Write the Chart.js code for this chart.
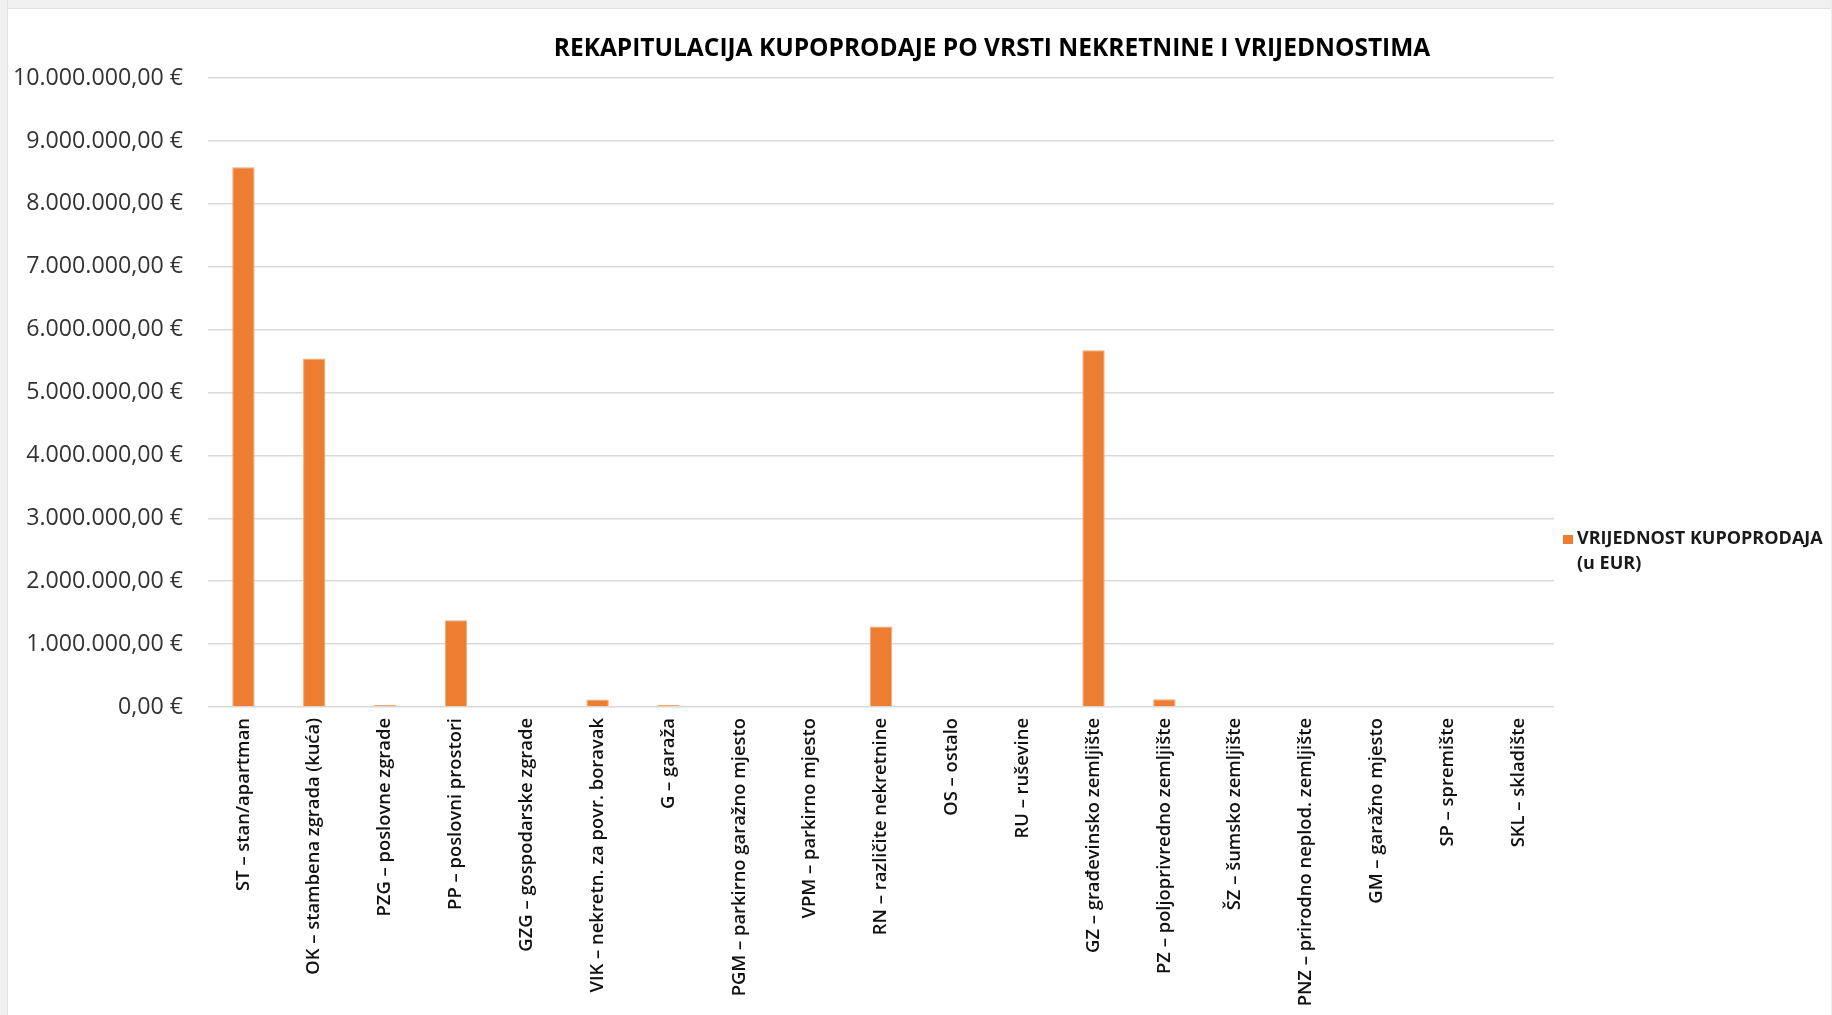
<!DOCTYPE html>
<html><head><meta charset="utf-8">
<script src="https://cdn.jsdelivr.net/npm/chart.js@4"></script>
<style>
html,body{margin:0;padding:0;background:#fff;width:1832px;height:1015px;overflow:hidden}
#top{position:absolute;left:0;top:0;width:1832px;height:8px;background:#f0f0f0;border-bottom:1px solid #e2e2e2}
#left{position:absolute;left:0;top:0;width:7px;height:1015px;background:#f0f0f0;border-right:1px solid #e2e2e2}
#right{position:absolute;right:0;top:0;width:1px;height:1015px;background:#ececec}
#wrap{position:absolute;left:0;top:0;width:1832px;height:1015px}
</style></head><body>
<div id="top"></div><div id="left"></div><div id="right"></div>
<div id="wrap"><canvas id="c" width="1832" height="1015"></canvas></div>
<script>
const chartTitle = "REKAPITULACIJA KUPOPRODAJE PO VRSTI NEKRETNINE I VRIJEDNOSTIMA";
const seriesName = ["VRIJEDNOST KUPOPRODAJA", "(u EUR)"];
const categories = [
  "ST – stan/apartman",
  "OK – stambena zgrada (kuća)",
  "PZG – poslovne zgrade",
  "PP – poslovni prostori",
  "GZG – gospodarske zgrade",
  "VIK – nekretn. za povr. boravak",
  "G – garaža",
  "PGM – parkirno garažno mjesto",
  "VPM – parkirno mjesto",
  "RN – različite nekretnine",
  "OS – ostalo",
  "RU – ruševine",
  "GZ – građevinsko zemljište",
  "PZ – poljoprivredno zemljište",
  "ŠZ – šumsko zemljište",
  "PNZ – prirodno neplod. zemljište",
  "GM – garažno mjesto",
  "SP – spremište",
  "SKL – skladište"
];
const values = [8580000, 5540000, 35000, 1380000, 0, 120000, 35000, 0, 0, 1280000, 0, 0, 5670000, 125000, 0, 0, 0, 0, 0];
const yMin = 0;
const yMax = 10000000;
const yStep = 1000000;

function fmtEur(v) {
  const neg = v < 0;
  let n = Math.abs(v).toFixed(2);
  let [intPart, dec] = n.split(".");
  intPart = intPart.replace(/\B(?=(\d{3})+(?!\d))/g, ".");
  return (neg ? "-" : "") + intPart + "," + dec + " €";
}

const overlay = {
  id: "overlay",
  afterDraw(chart) {
    const ctx = chart.ctx;
    ctx.save();
    ctx.fillStyle = "#000000";
    ctx.font = "bold 24.5px 'Open Sans'";
    ctx.textAlign = "center";
    ctx.textBaseline = "middle";
    ctx.fillText(chartTitle, 992, 49);
    // legend
    const ds = chart.data.datasets[0];
    ctx.fillStyle = ds.backgroundColor;
    ctx.fillRect(1563, 535, 10, 9);
    ctx.fillStyle = "#1a1a1a";
    ctx.font = "bold 18px 'Open Sans'";
    ctx.textAlign = "left";
    ctx.fillText(seriesName[0], 1577, 539);
    ctx.fillText(seriesName[1], 1577, 564);
    ctx.restore();
  }
};

new Chart(document.getElementById("c"), {
  type: "bar",
  data: {
    labels: categories,
    datasets: [{
      label: seriesName.join(" "),
      data: values,
      backgroundColor: "#ED7D31",
      borderColor: "#F3A877",
      borderWidth: 1,
      barPercentage: 0.316,
      categoryPercentage: 1
    }]
  },
  options: {
    responsive: false,
    devicePixelRatio: 1,
    animation: false,
    layout: { padding: { left: 0, right: 278, top: 78, bottom: 0 } },
    plugins: { legend: { display: false }, title: { display: false }, tooltip: { enabled: false } },
    scales: {
      x: {
        afterFit(s) { s.height = 308; },
        grid: { display: false, drawTicks: false },
        border: { display: false },
        ticks: {
          autoSkip: false, minRotation: 90, maxRotation: 90, padding: 11,
          color: "#111111", font: { family: "'Open Sans'", size: 18.4, weight: 600 }
        }
      },
      y: {
        min: yMin, max: yMax,
        afterFit(s) { s.width = 208; },
        grid: { color: "#dadada", lineWidth: 1.5, drawTicks: false },
        border: { display: false },
        ticks: {
          stepSize: yStep, padding: 25,
          color: "#333333", font: { family: "'Open Sans'", size: 23.2 },
          callback: (v) => fmtEur(v)
        }
      }
    }
  },
  plugins: [overlay]
});
</script>
</body></html>
